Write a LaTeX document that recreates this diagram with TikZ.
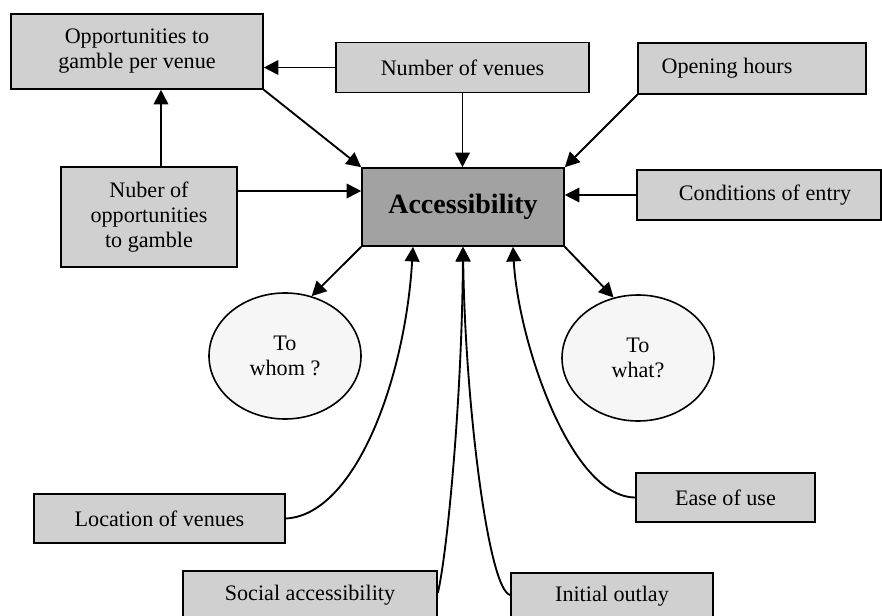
\documentclass[tikz,border=0pt]{standalone}
\usepackage{fontspec}
\setmainfont{Liberation Serif}
\usetikzlibrary{arrows.meta,shapes.geometric}
\definecolor{boxgray}{HTML}{D0D0D0}
\definecolor{accgray}{HTML}{A2A2A2}
\definecolor{ellfill}{HTML}{F6F6F6}
\begin{document}
\begin{tikzpicture}[x=0.75pt,y=-0.75pt,
  box/.style={draw=black,line width=1.2pt,fill=boxgray,inner sep=0pt,align=center,
    font=\fontsize{16.6}{18.75}\selectfont},
  accbox/.style={box,fill=accgray,font=\fontsize{21}{24}\selectfont\bfseries},
  ell/.style={draw=black,line width=1.2pt,fill=ellfill,ellipse,inner sep=0pt,align=center,
    minimum width=114pt,minimum height=94.5pt,font=\fontsize{16.6}{18.75}\selectfont},
  arr/.style={-{Triangle[length=11pt,width=11pt]},line width=1.4pt}]
\useasboundingbox (0,0) rectangle (882,616);
% boxes
\node[box,minimum width=189pt,minimum height=56.25pt] (opp) at (137,51.5) {Opportunities to\\gamble per venue};
\node[box,minimum width=189.75pt,minimum height=37.5pt] (nven) at (462.5,67.5) {Number of venues};
\node[box,minimum width=171pt,minimum height=38.25pt] (open) at (752,68.5) {\hspace*{-37.5pt}Opening hours};
\node[accbox,minimum width=151.5pt,minimum height=58.5pt] (acc) at (463,207) {Accessibility};
\node[box,minimum width=183pt,minimum height=37.5pt] (cond) at (759,195) {\hspace*{9pt}Conditions of entry};
\node[box,minimum width=132pt,minimum height=75pt] (nub) at (149,217) {Nuber of\\opportunities\\to gamble};
\node[ell] (whom) at (285,356) {To\\whom ?};
\node[ell] (what) at (638,358) {To\\what?};
\node[box,minimum width=188.25pt,minimum height=36.75pt] (loc) at (159.5,518.5) {Location of venues};
\node[box,minimum width=134.25pt,minimum height=36.75pt] (ease) at (725.5,497.5) {Ease of use};
\node[box,minimum width=190.5pt,minimum height=52.5pt] (soc) at (310,606) {\raisebox{4.5pt}[0pt][0pt]{Social accessibility}};
\node[box,minimum width=151.5pt,minimum height=51pt] (init) at (612,607) {\raisebox{4pt}[0pt][0pt]{Initial outlay}};
% straight connectors
\draw[arr] (nven.west) -- (nven.west -| opp.east);
\draw[arr] ([xshift=9pt]nub.north) -- ([xshift=9pt]nub.north |- opp.south);
\draw[arr] (opp.south east) -- (acc.north west);
\coordinate (accw) at ([yshift=12pt]acc.west);
\draw[arr] (accw -| nub.east) -- (accw);
\draw[arr] (nven.south) -- (nven.south |- acc.north);
\draw[arr] (open.south west) -- (acc.north east);
\draw[arr] (cond.west) -- (cond.west -| acc.east);
\draw[arr] (acc.south west) -- (whom.66);
\draw[arr] (acc.south east) -- (what.112);
% curved connectors
\draw[arr] (loc.east) .. controls (355,515) and (405,380) .. ([xshift=-37.5pt]acc.south);
\draw[arr] ([yshift=9.75pt]soc.east) .. controls (447,555) and (462,400) .. (acc.south);
\draw[arr] ([yshift=9pt]init.west) .. controls (488,590) and (465,400) .. (acc.south);
\draw[arr] (ease.west) .. controls (570,497) and (518,340) .. ([xshift=37.5pt]acc.south);
\end{tikzpicture}
\end{document}
